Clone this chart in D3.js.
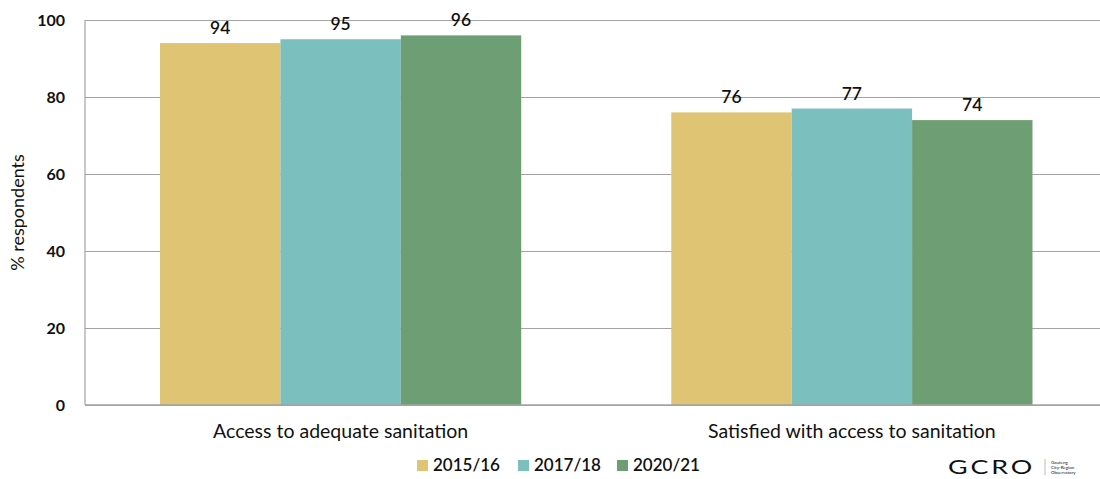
<!DOCTYPE html>
<html>
<head>
<meta charset="utf-8">
<script src="https://cdn.jsdelivr.net/npm/d3@7"></script>
<style>
  html, body { margin: 0; padding: 0; background: #fff; }
  svg { display: block; }
  text { font-family: Lato, "Open Sans", sans-serif; fill: #111; }
</style>
</head>
<body>
<svg id="chart" width="1100" height="479"></svg>
<script>
// Sanitation indicators by survey round (% respondents)
const categories = ["Access to adequate sanitation", "Satisfied with access to sanitation"];
const seriesNames = ["2015/16", "2017/18", "2020/21"];
const values2015 = [94, 76];
const values2017 = [95, 77];
const values2020 = [96, 74];
const yTicks = [0, 20, 40, 60, 80, 100];
const colors = ["#dfc474", "#7bbfbf", "#6e9e73"];

const seriesValues = [values2015, values2017, values2020];
const rows = categories.map((c, i) => ({
  category: c,
  bars: seriesNames.map((s, j) => ({ series: s, value: seriesValues[j][i], color: colors[j] }))
}));

const svg = d3.select("#chart");
const plotLeft = 85, plotTop = 20, plotBottom = 405, plotRight = 1107.5;

const y = d3.scaleLinear().domain([0, 100]).range([plotBottom, plotTop]);
const x0 = d3.scaleBand().domain(categories).range([plotLeft, plotRight])
  .paddingInner(0.2935).paddingOuter(0.1467);
const x1 = d3.scaleBand().domain(seriesNames).range([0, x0.bandwidth()]).padding(0);

// Gridlines
const grid = svg.append("g")
  .attr("transform", `translate(${plotLeft},0)`)
  .call(d3.axisLeft(y).tickValues(yTicks).tickSize(-(1100 - plotLeft)).tickFormat(""));
grid.select(".domain").remove();
grid.selectAll("line").attr("stroke", "#a3a3a3").attr("stroke-width", 1.2);

// Bars
const groups = svg.append("g").selectAll("g").data(rows).join("g")
  .attr("transform", d => `translate(${x0(d.category)},0)`);
groups.selectAll("rect").data(d => d.bars).join("rect")
  .attr("x", d => x1(d.series))
  .attr("y", d => y(d.value))
  .attr("width", x1.bandwidth())
  .attr("height", d => y(0) - y(d.value))
  .attr("fill", d => d.color);

// Value labels
groups.selectAll("text.val").data(d => d.bars).join("text")
  .attr("class", "val")
  .attr("x", d => x1(d.series) + x1.bandwidth() / 2)
  .attr("y", d => y(d.value) - 9)
  .attr("text-anchor", "middle")
  .attr("font-size", 17.5)
  .attr("font-weight", 600)
  .text(d => d.value);

// Axis lines
svg.append("line").attr("x1", plotLeft).attr("x2", plotLeft).attr("y1", plotTop).attr("y2", plotBottom)
  .attr("stroke", "#a3a3a3").attr("stroke-width", 1.2);
svg.append("line").attr("x1", plotLeft).attr("x2", 1100).attr("y1", plotBottom).attr("y2", plotBottom)
  .attr("stroke", "#a3a3a3").attr("stroke-width", 1.5);

// Y tick labels
const yAxis = svg.append("g")
  .attr("transform", `translate(${plotLeft},0)`)
  .call(d3.axisLeft(y).tickValues(yTicks).tickSize(0).tickPadding(20));
yAxis.select(".domain").remove();
yAxis.selectAll("text")
  .attr("font-size", 16).attr("font-weight", 700)
  .attr("font-family", "Lato, sans-serif").attr("fill", "#111");

// Y axis title
svg.append("text")
  .attr("transform", `translate(24,${(plotTop + plotBottom) / 2}) rotate(-90)`)
  .attr("text-anchor", "middle")
  .attr("font-size", 18)
  .text("% respondents");

// Category labels
const xAxis = svg.append("g")
  .attr("transform", `translate(0,${plotBottom})`)
  .call(d3.axisBottom(x0).tickSize(0).tickPadding(19));
xAxis.select(".domain").remove();
xAxis.selectAll("text")
  .attr("font-size", 19.5).attr("font-family", "Lato, sans-serif").attr("fill", "#111");

// Legend
const legendX = [417, 518, 617];
const legend = svg.append("g").selectAll("g").data(seriesNames).join("g")
  .attr("transform", (d, i) => `translate(${legendX[i]},460)`);
legend.append("rect").attr("width", 11).attr("height", 11).attr("fill", (d, i) => colors[i]);
legend.append("text").attr("x", 16).attr("y", 11)
  .attr("font-size", 17).attr("font-weight", 600).text(d => d);

// Organisation mark
const logo = svg.append("g").attr("transform", "translate(948,474)");
logo.append("text").attr("x", 0).attr("y", 0)
  .attr("font-size", 19).attr("font-weight", 400)
  .attr("font-family", "DejaVu Sans, sans-serif")
  .attr("fill", "#3a3a3a")
  .attr("letter-spacing", 2)
  .attr("textLength", 87)
  .attr("lengthAdjust", "spacingAndGlyphs")
  .text("GCRO");
logo.append("line").attr("x1", 97).attr("x2", 97).attr("y1", -15).attr("y2", 1)
  .attr("stroke", "#bbb").attr("stroke-width", 1);
["Gauteng", "City-Region", "Observatory"].forEach((t, i) => {
  logo.append("text").attr("x", 103).attr("y", -10 + i * 5)
    .attr("font-size", 4.5).attr("fill", "#777").text(t);
});
</script>
</body>
</html>
